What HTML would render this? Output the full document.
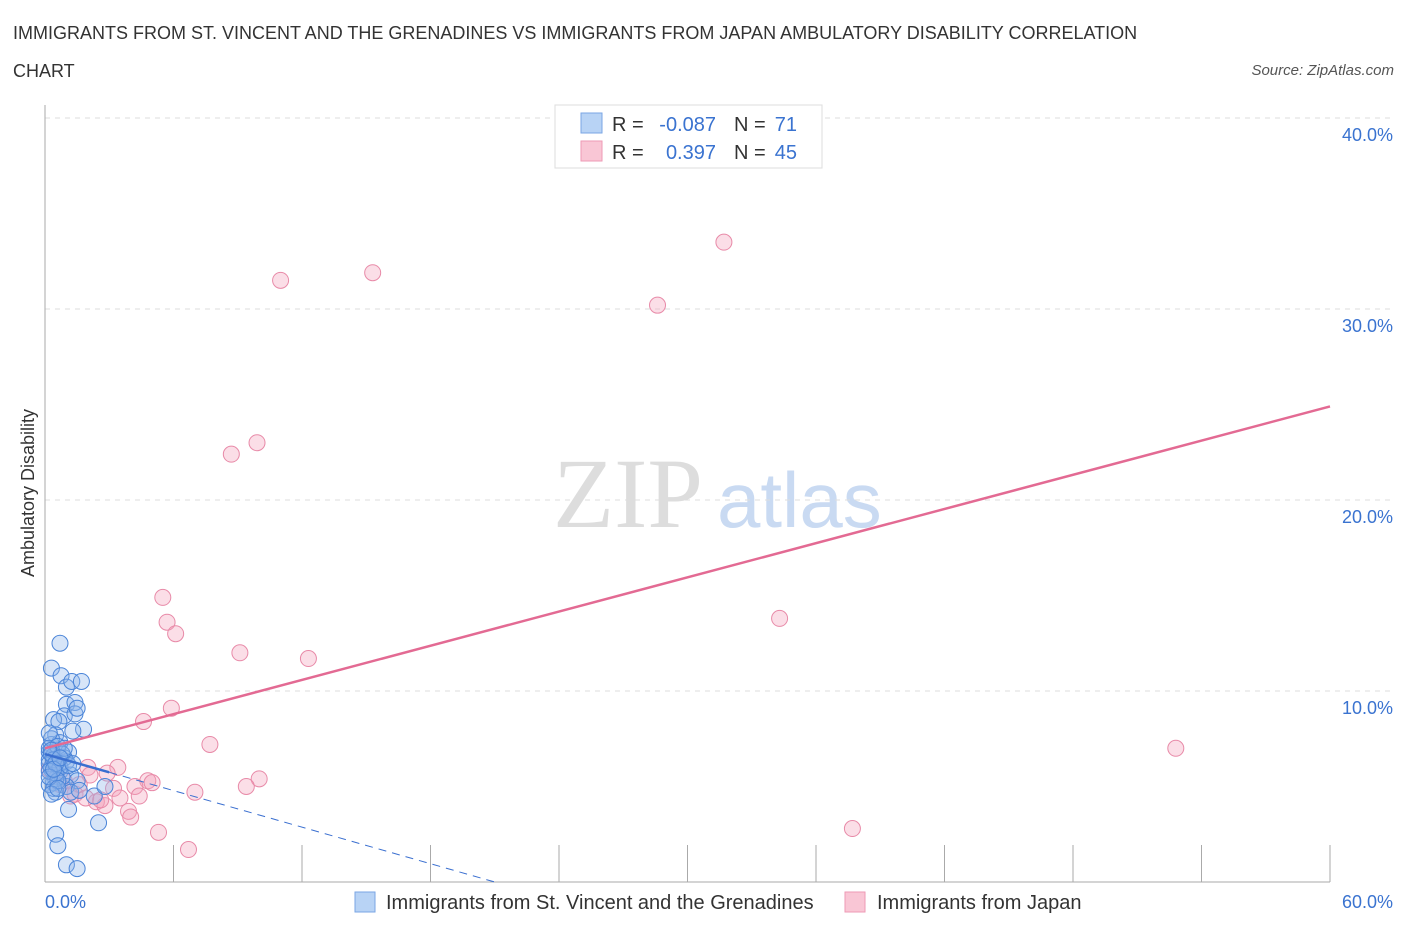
<!DOCTYPE html>
<html><head><meta charset="utf-8">
<style>
body{margin:0;background:#fff;font-family:"Liberation Sans",sans-serif;}
#wrap{position:relative;width:1406px;height:930px;overflow:hidden;}
.t{position:absolute;white-space:nowrap;}
</style></head>
<body>
<div id="wrap">
<div class="t" style="left:13px;top:14px;font-size:18px;color:#333;line-height:38px;width:1175px;white-space:normal">IMMIGRANTS FROM ST. VINCENT AND THE GRENADINES VS IMMIGRANTS FROM JAPAN AMBULATORY DISABILITY CORRELATION CHART</div>
<div class="t" style="right:12px;top:62px;font-size:15px;color:#555;font-style:italic">Source: ZipAtlas.com</div>
<svg id="svg" width="1406" height="930" style="position:absolute;left:0;top:0"></svg>
</div>
<script>
const xTicks=[0,6,12,18,24,30,36,42,48,54,60];
const yGrid=[10,20,30,40];
const yTickLabels=["10.0%","20.0%","30.0%","40.0%"];
const blueX=[0.7,0.3,0.75,1.0,1.25,1.7,1.0,1.4,0.9,1.4,1.5,0.4,0.65,1.8,1.3,0.5,0.3,0.7,0.2,0.6,1.1,0.2,0.5,1.0,0.3,0.7,1.2,1.5,0.4,1.0,0.5,1.2,1.6,2.3,2.8,2.5,1.1,0.5,0.6,1.0,1.5,0.2,0.4,0.6,0.3,0.8,0.5,0.2,0.4,0.9,0.3,0.6,0.2,0.5,0.8,0.3,0.4,0.7,0.2,0.6,1.1,0.3,0.9,0.5,0.2,0.4,0.7,1.3,0.3,0.6,0.2];
const blueY=[12.5,11.2,10.8,10.2,10.5,10.5,9.3,9.4,8.7,8.8,9.1,8.5,8.4,8.0,7.9,7.7,7.2,7.3,6.8,6.9,6.8,6.4,6.3,6.3,5.9,5.8,5.6,5.3,5.2,5.0,4.7,4.7,4.8,4.5,5.0,3.1,3.8,2.5,1.9,0.9,0.7,7.0,6.6,6.1,6.0,5.5,5.4,5.1,4.9,6.5,7.5,7.1,6.2,5.7,6.7,6.9,6.4,6.0,5.8,5.3,6.1,6.7,7.0,6.2,5.5,5.9,6.5,6.2,4.6,4.9,7.8];
const pinkX=[31.7,15.3,11.0,28.6,9.9,8.7,5.5,5.7,6.1,34.3,9.1,12.3,4.6,5.9,7.7,52.8,10.0,9.4,7.0,4.8,5.0,3.4,2.9,2.0,2.1,4.2,4.4,3.2,2.4,2.8,3.9,4.0,5.3,6.7,37.7,1.4,0.7,0.5,0.9,1.6,0.2,3.5,1.9,2.6,1.2];
const pinkY=[33.5,31.9,31.5,30.2,23.0,22.4,14.9,13.6,13.0,13.8,12.0,11.7,8.4,9.1,7.2,7.0,5.4,5.0,4.7,5.3,5.2,6.0,5.7,6.0,5.6,5.0,4.5,4.9,4.2,4.0,3.7,3.4,2.6,1.7,2.8,4.6,5.1,5.6,5.3,5.1,5.9,4.4,4.4,4.3,4.5];
const blueLine=[[0,6.7],[21,0]];
const pinkLine=[[0,7.0],[60,24.9]];
const X0=45,X1=1330,Y0=882,YPER=19.1;
const sx=v=>X0+(X1-X0)*v/60, sy=v=>Y0-v*YPER;
const svg=document.getElementById('svg');const NS="http://www.w3.org/2000/svg";
function mk(tag,attrs,name,inter){const e=document.createElementNS(NS,tag);for(const k in attrs)e.setAttribute(k,attrs[k]);


svg.appendChild(e);return e;}
let w=mk('text',{x:553,y:527,'font-size':100,'font-family':'Liberation Serif',fill:'#ddd'},'watermark-zip',false);w.textContent='ZIP';
w=mk('text',{x:717,y:527,'font-size':78,'font-family':'Liberation Sans',fill:'#c9daf2'},'watermark-atlas',false);w.textContent='atlas';
yGrid.forEach((g,i)=>{mk('line',{x1:X0,x2:1395,y1:sy(g),y2:sy(g),stroke:'#ddd','stroke-dasharray':'5,5'},'gridline-'+g,false);
const t=mk('text',{x:1393,y:sy(g)+23,'text-anchor':'end','font-size':18,fill:'#3a73d0'},'y-tick-label',false);t.textContent=yTickLabels[i];});
mk('line',{x1:X0,x2:X0,y1:105,y2:Y0,stroke:'#aaa'},'y-axis',false);
mk('line',{x1:X0,x2:X1,y1:Y0,y2:Y0,stroke:'#aaa'},'x-axis',false);
xTicks.forEach(v=>mk('line',{x1:sx(v),x2:sx(v),y1:Y0,y2:Y0-37,stroke:'#aaa'},'x-tick',false));
let t=mk('text',{x:45,y:908,'font-size':18,fill:'#3a73d0'},'x-min-label',false);t.textContent='0.0%';
t=mk('text',{x:1393,y:908,'text-anchor':'end','font-size':18,fill:'#3a73d0'},'x-max-label',false);t.textContent='60.0%';
t=mk('text',{x:34,y:493,'text-anchor':'middle','font-size':18,fill:'#333',transform:'rotate(-90 34 493)'},'y-axis-title',false);t.textContent='Ambulatory Disability';
pinkX.forEach((x,i)=>mk('circle',{cx:sx(x),cy:sy(pinkY[i]),r:8,fill:'rgba(244,160,185,0.35)',stroke:'#e88aa8','stroke-width':1},'japan-point',false));
blueX.forEach((x,i)=>mk('circle',{cx:sx(x),cy:sy(blueY[i]),r:8,fill:'rgba(140,180,235,0.35)',stroke:'#4a84d8','stroke-width':1},'svg-point',false));
const by=x=>blueLine[0][1]+(blueLine[1][1]-blueLine[0][1])*(x-blueLine[0][0])/(blueLine[1][0]-blueLine[0][0]);
mk('line',{x1:sx(0),y1:sy(by(0)),x2:sx(3),y2:sy(by(3)),stroke:'#3a6fd0','stroke-width':2.5},'svg-trend-line',false);
mk('line',{x1:sx(3),y1:sy(by(3)),x2:sx(blueLine[1][0]),y2:sy(blueLine[1][1]),stroke:'#3a6fd0','stroke-width':1,'stroke-dasharray':'8,6'},'svg-trend-line-dashed',false);
mk('line',{x1:sx(pinkLine[0][0]),y1:sy(pinkLine[0][1]),x2:sx(pinkLine[1][0]),y2:sy(pinkLine[1][1]),stroke:'#e36a93','stroke-width':2.5},'japan-trend-line',false);
mk('rect',{x:555,y:105,width:267,height:63,fill:'#fff',stroke:'#ddd'},'stats-legend',false);
mk('rect',{x:581,y:113,width:21,height:20,fill:'#b8d3f5',stroke:'#7aa6e4'},'stats-swatch-blue',false);
mk('rect',{x:581,y:141,width:21,height:20,fill:'#f9c6d5',stroke:'#ee9ab5'},'stats-swatch-pink',false);
function tx(x,y,s,c,n,a){const e=mk('text',{x:x,y:y,'font-size':20,fill:c,'text-anchor':a||'start'},n,false);e.textContent=s;}
tx(612,131,'R =','#333','r-label');tx(716,131,'-0.087','#3a73d0','r-value-blue','end');tx(734,131,'N =','#333','n-label');tx(797,131,'71','#3a73d0','n-value-blue','end');
tx(612,159,'R =','#333','r-label');tx(716,159,'0.397','#3a73d0','r-value-pink','end');tx(734,159,'N =','#333','n-label');tx(797,159,'45','#3a73d0','n-value-pink','end');
mk('rect',{x:355,y:892,width:20,height:20,fill:'#b8d3f5',stroke:'#7aa6e4'},'legend-swatch-svg',true);
tx(386,909,'Immigrants from St. Vincent and the Grenadines','#333','legend-entry-svg');
mk('rect',{x:845,y:892,width:20,height:20,fill:'#f9c6d5',stroke:'#ee9ab5'},'legend-swatch-japan',true);
tx(877,909,'Immigrants from Japan','#333','legend-entry-japan');
</script>
</body></html>
